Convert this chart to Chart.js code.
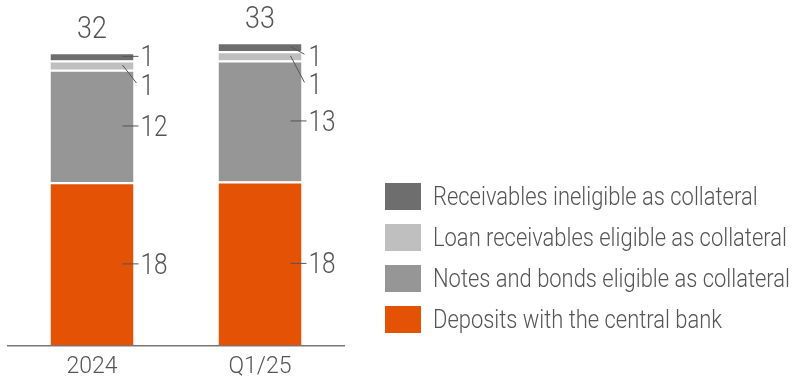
<!DOCTYPE html>
<html>
<head>
<meta charset="utf-8">
<script src="https://cdn.jsdelivr.net/npm/chart.js@4.4.1/dist/chart.umd.min.js"></script>
<style>
  html, body { margin: 0; padding: 0; background: #fff; }
  #wrap { position: relative; width: 798px; height: 382px; }
  #legend { position: absolute; left: 385px; top: 183px; font-family: Roboto, 'Liberation Sans', sans-serif; font-weight: 300; font-size: 25px; color: #555; }
  .row { display: flex; align-items: center; height: 27px; margin-bottom: 14px; white-space: nowrap; }
  .box { width: 36px; height: 27px; margin-right: 12px; flex: none; }
  .txt { display: inline-block; transform-origin: 0 50%; }
</style>
</head>
<body>
<div id="wrap">
  <canvas id="chart" width="798" height="382"></canvas>
  <div id="legend"></div>
</div>
<script>
const categories = ['2024', 'Q1/25'];
const deposits = [17.8, 17.9];
const notesBonds = [12.3, 13.2];
const loanReceivables = [1.0, 1.0];
const ineligible = [0.9, 1.0];

const seriesNames = [
  'Deposits with the central bank',
  'Notes and bonds eligible as collateral',
  'Loan receivables eligible as collateral',
  'Receivables ineligible as collateral'
];
const seriesColors = ['#e35205', '#969696', '#bfbfbf', '#6e6e6e'];
const seriesData = [deposits, notesBonds, loanReceivables, ineligible];

const FONT = "Roboto, 'Liberation Sans', sans-serif";
const TEXT = '#555';
const SQUEEZE = 0.84;

// label y shift (px) for the thin segments at the top
const labelShift = [[0, 0], [0, 0], [20, 28.5], [0, 9.5]];

function narrowText(ctx, txt, x, y, align) {
  const w = ctx.measureText(txt).width * SQUEEZE;
  let x0 = x;
  if (align === 'center') x0 = x - w / 2;
  ctx.save();
  ctx.translate(x0, y);
  ctx.scale(SQUEEZE, 1);
  ctx.textAlign = 'left';
  ctx.fillText(txt, 0, 0);
  ctx.restore();
}

const segLabels = {
  id: 'segLabels',
  afterDatasetsDraw(chart) {
    const ctx = chart.ctx;
    ctx.save();
    ctx.strokeStyle = '#555';
    ctx.lineWidth = 1;
    ctx.fillStyle = TEXT;
    ctx.textBaseline = 'alphabetic';
    ctx.font = '300 29px ' + FONT;
    chart.data.datasets.forEach(function(ds, i) {
      const meta = chart.getDatasetMeta(i);
      meta.data.forEach(function(bar, j) {
        const right = bar.x + bar.width / 2;
        const mid = (bar.y + bar.base) / 2;
        const dy = labelShift[i][j];
        const ly = mid + dy;
        ctx.beginPath();
        if (dy === 0) {
          ctx.moveTo(right - 11, mid);
          ctx.lineTo(right + 5, mid);
        } else {
          ctx.moveTo(right - 11, mid);
          ctx.lineTo(right + 3, ly - 2);
        }
        ctx.stroke();
        narrowText(ctx, String(Math.round(ds.data[j])), right + 7, ly + 10, 'left');
      });
    });
    // totals
    ctx.font = '300 32px ' + FONT;
    const last = chart.getDatasetMeta(chart.data.datasets.length - 1);
    last.data.forEach(function(bar, j) {
      let total = 0;
      seriesData.forEach(function(s) { total += s[j]; });
      narrowText(ctx, String(Math.round(total)), bar.x, bar.y - 14, 'center');
    });
    ctx.restore();
  }
};

new Chart(document.getElementById('chart'), {
  type: 'bar',
  data: {
    labels: categories,
    datasets: seriesData.map(function(d, i) {
      return {
        label: seriesNames[i],
        data: d,
        backgroundColor: seriesColors[i],
        borderColor: '#fff',
        borderWidth: { top: 2, left: 0, right: 0, bottom: 0 },
        borderSkipped: false,
        categoryPercentage: 1,
        barPercentage: 0.494
      };
    })
  },
  options: {
    responsive: false,
    animation: false,
    layout: { padding: { left: 8, right: 454, top: 0, bottom: -7 } },
    scales: {
      x: {
        stacked: true,
        grid: { display: false, drawTicks: false },
        border: { display: true, color: '#777', width: 1.5 },
        ticks: { color: TEXT, padding: 8, font: { family: FONT, size: 23, weight: 300 } }
      },
      y: {
        stacked: true,
        display: false,
        min: 0,
        max: 37.7
      }
    },
    plugins: {
      legend: { display: false },
      tooltip: { enabled: false }
    }
  },
  plugins: [segLabels]
});

// legend, top to bottom reversed order
const legend = document.getElementById('legend');
for (let i = seriesNames.length - 1; i >= 0; i--) {
  const row = document.createElement('div');
  row.className = 'row';
  row.innerHTML = '<span class="box" style="background:' + seriesColors[i] + '"></span><span class="txt">' + seriesNames[i] + '</span>';
  legend.appendChild(row);
}
// squeeze legend text so the longest line ends where the reference does
const txts = legend.querySelectorAll('.txt');
let widest = 0;
txts.forEach(function(t) { widest = Math.max(widest, t.getBoundingClientRect().width); });
const k = Math.min(1, 357 / widest);
txts.forEach(function(t) { t.style.transform = 'scaleX(' + k + ')'; });
</script>
</body>
</html>
